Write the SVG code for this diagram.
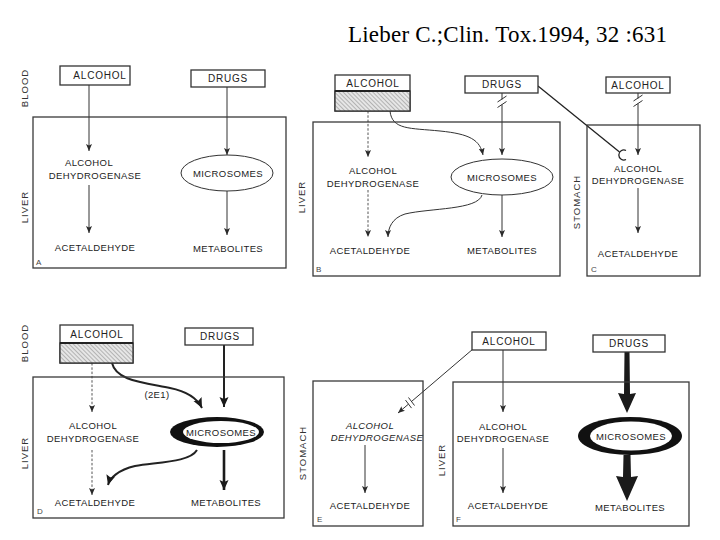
<svg xmlns="http://www.w3.org/2000/svg" width="720" height="540" viewBox="0 0 720 540">
<defs>
<style>
.t{font-family:"Liberation Sans",Arial,sans-serif;font-size:9.5px;fill:#222;text-anchor:middle;letter-spacing:0.4px}
.bt{font-family:"Liberation Sans",Arial,sans-serif;font-size:10px;fill:#222;text-anchor:middle;letter-spacing:0.8px}
.lb{font-family:"Liberation Sans",Arial,sans-serif;font-size:9.5px;fill:#333;text-anchor:middle;letter-spacing:1px}
.pl{font-family:"Liberation Sans",Arial,sans-serif;font-size:8px;fill:#444}
.bx{fill:#fff;stroke:#333;stroke-width:1.3}
.pn{fill:none;stroke:#3a3a3a;stroke-width:1.3}
.ln{fill:none;stroke:#333;stroke-width:1}
.ds{fill:none;stroke:#555;stroke-width:1;stroke-dasharray:2.5,1.8}
.th{fill:none;stroke:#222;stroke-width:2}
</style>
<marker id="ah" markerUnits="userSpaceOnUse" markerWidth="8" markerHeight="7" refX="7" refY="3" orient="auto">
<path d="M0,0 L7,3 L0,6 L1.5,3 z" fill="#2a2a2a"/>
</marker>
<marker id="ahb" markerUnits="userSpaceOnUse" markerWidth="12" markerHeight="10" refX="10" refY="4.5" orient="auto">
<path d="M0,0 L10,4.5 L0,9 L2,4.5 z" fill="#1a1a1a"/>
</marker>
<pattern id="hatch" patternUnits="userSpaceOnUse" width="3" height="3" patternTransform="rotate(-45)">
<rect width="3" height="3" fill="#e6e6e6"/>
<line x1="0" y1="0" x2="0" y2="3" stroke="#808080" stroke-width="1"/>
</pattern>
</defs>
<rect width="720" height="540" fill="#fff"/>
<text x="348" y="42" font-family="'Liberation Serif','Times New Roman',serif" font-size="23" fill="#000" textLength="319">Lieber C.;Clin. Tox.1994, 32 :631</text>

<g id="connectors">
<!-- A -->
<line class="ln" x1="89" y1="85" x2="89" y2="151" marker-end="url(#ah)"/>
<line class="ln" x1="89" y1="185" x2="89" y2="233" marker-end="url(#ah)"/>
<line class="ln" x1="227" y1="87" x2="227" y2="155" marker-end="url(#ah)"/>
<line class="ln" x1="227" y1="191" x2="227" y2="235" marker-end="url(#ah)"/>
<!-- B -->
<line class="ds" x1="368" y1="111" x2="368" y2="157" marker-end="url(#ah)"/>
<line class="ds" x1="368" y1="190" x2="368" y2="237" marker-end="url(#ah)"/>
<path class="ln" d="M390,111 C392,130 410,128 440,131 C470,134 480,140 483,155" marker-end="url(#ah)"/>
<line class="ln" x1="502" y1="93" x2="502" y2="99.5"/>
<line class="ln" x1="502" y1="104.5" x2="502" y2="155" marker-end="url(#ah)"/>
<line class="ln" x1="497.5" y1="102" x2="506.5" y2="96"/>
<line class="ln" x1="497.5" y1="107.5" x2="506.5" y2="101.5"/>
<path class="ln" d="M482,195 C478,210 430,208 405,214 C392,218 388,228 388,237" marker-end="url(#ah)"/>
<line class="ln" x1="502" y1="195" x2="502" y2="237" marker-end="url(#ah)"/>
<!-- C -->
<line class="ln" x1="638" y1="93" x2="638" y2="98.5"/>
<line class="ln" x1="638" y1="103.5" x2="638" y2="155" marker-end="url(#ah)"/>
<line class="ln" x1="633.5" y1="101" x2="642.5" y2="95"/>
<line class="ln" x1="633.5" y1="106.5" x2="642.5" y2="100.5"/>
<line x1="538" y1="86" x2="619.5" y2="152" stroke="#222" stroke-width="1.3"/>
<path d="M626,150.5 A5,5 0 1 0 626,159.5" fill="none" stroke="#222" stroke-width="1.3"/>
<line class="ln" x1="638" y1="188" x2="638" y2="233" marker-end="url(#ah)"/>
<!-- D -->
<line class="ds" x1="92" y1="363" x2="92" y2="412" marker-end="url(#ah)"/>
<line class="ds" x1="92" y1="450" x2="92" y2="495" marker-end="url(#ah)"/>
<path class="th" d="M112,363 C116,380 140,382 170,388 C190,392 198,400 202,408" marker-end="url(#ahb)"/>
<line class="th" x1="224" y1="345" x2="224" y2="407" marker-end="url(#ahb)"/>
<path class="th" d="M197,450 C190,462 160,462 135,466 C118,470 110,478 108,485" marker-end="url(#ahb)"/>
<line x1="224" y1="450" x2="224" y2="490" stroke="#1a1a1a" stroke-width="2.6" marker-end="url(#ahb)"/>
<!-- E -->
<line class="ln" x1="473" y1="349" x2="411.5" y2="401.5"/>
<line class="ln" x1="408.5" y1="404.1" x2="398" y2="413" marker-end="url(#ah)"/>
<line class="ln" x1="408.5" y1="397.5" x2="414.5" y2="405.5"/>
<line class="ln" x1="405.5" y1="400.1" x2="411.5" y2="408.1"/>
<line class="ln" x1="365" y1="445" x2="365" y2="493" marker-end="url(#ah)"/>
<!-- F -->
<line class="ln" x1="503" y1="350" x2="503" y2="412" marker-end="url(#ah)"/>
<line class="ln" x1="503" y1="448" x2="503" y2="493" marker-end="url(#ah)"/>
<path d="M624.5,352 L629.5,352 L630,394 L636,393 L627,413 L618,393 L624,394 Z" fill="#1a1a1a"/>
<path d="M623.5,455 L630.5,455 L631,477 L638,476 L627,501 L616,476 L623,477 Z" fill="#1a1a1a"/>
</g>

<g id="panelA">
<text class="lb" transform="translate(28,88) rotate(-90)">BLOOD</text>
<text class="lb" transform="translate(28,207) rotate(-90)">LIVER</text>
<rect class="pn" x="33" y="117" width="253" height="151"/>
<text class="pl" x="36" y="265">A</text>
</g>
<g id="A-alcohol"><rect class="bx" x="60" y="66" width="70" height="19"/><text class="bt" x="100" y="79">ALCOHOL</text></g>
<g id="A-drugs"><rect class="bx" x="191" y="70" width="74" height="17"/><text class="bt" x="228" y="82">DRUGS</text></g>
<g id="A-adh"><text class="t" x="89" y="165.5">ALCOHOL</text><text class="t" x="95" y="179">DEHYDROGENASE</text></g>
<g id="A-acet"><text class="t" x="95" y="251">ACETALDEHYDE</text></g>
<g id="A-micro"><ellipse class="ln" cx="227" cy="173" rx="46" ry="18"/><text class="t" x="228" y="176.5">MICROSOMES</text></g>
<g id="A-metab"><text class="t" x="228" y="252">METABOLITES</text></g>

<g id="panelB">
<text class="lb" transform="translate(305,197) rotate(-90)">LIVER</text>
<rect class="pn" x="313" y="122" width="247" height="154"/>
<text class="pl" x="316" y="272">B</text>
</g>
<g id="B-alcohol"><rect class="bx" x="335" y="75" width="75" height="36"/><rect x="335" y="91" width="75" height="20" fill="url(#hatch)" stroke="#333" stroke-width="1.3"/><line x1="335" y1="91" x2="410" y2="91" stroke="#222" stroke-width="2"/><text class="bt" x="373" y="87">ALCOHOL</text></g>
<g id="B-drugs"><rect class="bx" x="465" y="76" width="73" height="17"/><text class="bt" x="502" y="88">DRUGS</text></g>
<g id="B-adh"><text class="t" x="373" y="173.5">ALCOHOL</text><text class="t" x="373" y="186.5">DEHYDROGENASE</text></g>
<g id="B-acet"><text class="t" x="370" y="253.5">ACETALDEHYDE</text></g>
<g id="B-micro"><ellipse class="ln" cx="502" cy="177" rx="51" ry="18"/><text class="t" x="502" y="180.5">MICROSOMES</text></g>
<g id="B-metab"><text class="t" x="502" y="253.5">METABOLITES</text></g>

<g id="panelC">
<text class="lb" transform="translate(580,202) rotate(-90)">STOMACH</text>
<rect class="pn" x="587" y="125" width="113" height="151"/>
<text class="pl" x="591" y="272">C</text>
</g>
<g id="C-alcohol"><rect class="bx" x="606" y="77" width="64" height="16"/><text class="bt" x="638" y="88.5">ALCOHOL</text></g>
<g id="C-adh"><text class="t" x="638" y="171.5">ALCOHOL</text><text class="t" x="638" y="183.5">DEHYDROGENASE</text></g>
<g id="C-acet"><text class="t" x="638" y="256.5">ACETALDEHYDE</text></g>

<g id="panelD">
<text class="lb" transform="translate(28,343) rotate(-90)">BLOOD</text>
<text class="lb" transform="translate(28,453) rotate(-90)">LIVER</text>
<rect class="pn" x="33" y="377" width="251" height="141"/>
<text class="pl" x="37" y="514">D</text>
<text class="t" x="157" y="398" font-size="9">(2E1)</text>
</g>
<g id="D-alcohol"><rect class="bx" x="60" y="325" width="73" height="38"/><rect x="60" y="343" width="73" height="20" fill="url(#hatch)" stroke="#333" stroke-width="1.3"/><line x1="60" y1="343" x2="133" y2="343" stroke="#222" stroke-width="2"/><text class="bt" x="97" y="337.5">ALCOHOL</text></g>
<g id="D-drugs"><rect class="bx" x="185" y="328" width="68" height="17"/><text class="bt" x="220" y="340">DRUGS</text></g>
<g id="D-adh"><text class="t" x="93" y="429">ALCOHOL</text><text class="t" x="93" y="442">DEHYDROGENASE</text></g>
<g id="D-acet"><text class="t" x="95" y="506">ACETALDEHYDE</text></g>
<g id="D-micro"><ellipse cx="217" cy="432" rx="47" ry="15" fill="#111"/><ellipse cx="221" cy="432" rx="38" ry="11" fill="#fff"/><text class="t" x="221" y="435.5">MICROSOMES</text></g>
<g id="D-metab"><text class="t" x="226" y="506">METABOLITES</text></g>

<g id="panelE">
<text class="lb" transform="translate(306,453) rotate(-90)">STOMACH</text>
<rect class="pn" x="313" y="381" width="110" height="145"/>
<text class="pl" x="317" y="522">E</text>
</g>
<g id="E-adh"><text class="t" x="370" y="429" font-style="italic" fill="#777">ALCOHOL</text><text class="t" x="377" y="441" font-style="italic" fill="#777">DEHYDROGENASE</text></g>
<g id="E-acet"><text class="t" x="370" y="509">ACETALDEHYDE</text></g>

<g id="panelF">
<text class="lb" transform="translate(445,460) rotate(-90)">LIVER</text>
<rect class="pn" x="453" y="382" width="236" height="144"/>
<text class="pl" x="456" y="522">F</text>
</g>
<g id="F-alcohol"><rect class="bx" x="472" y="332" width="74" height="18"/><text class="bt" x="509" y="344.5">ALCOHOL</text></g>
<g id="F-drugs"><rect class="bx" x="593" y="335" width="72" height="17"/><text class="bt" x="629" y="347">DRUGS</text></g>
<g id="F-adh"><text class="t" x="503" y="430">ALCOHOL</text><text class="t" x="503" y="442">DEHYDROGENASE</text></g>
<g id="F-acet"><text class="t" x="508" y="509">ACETALDEHYDE</text></g>
<g id="F-micro"><ellipse cx="630" cy="436" rx="52" ry="19" fill="#111"/><ellipse cx="631" cy="436" rx="41" ry="14.5" fill="#fff"/><text class="t" x="631" y="439.5">MICROSOMES</text></g>
<g id="F-metab"><text class="t" x="630" y="511">METABOLITES</text></g>
</svg>
